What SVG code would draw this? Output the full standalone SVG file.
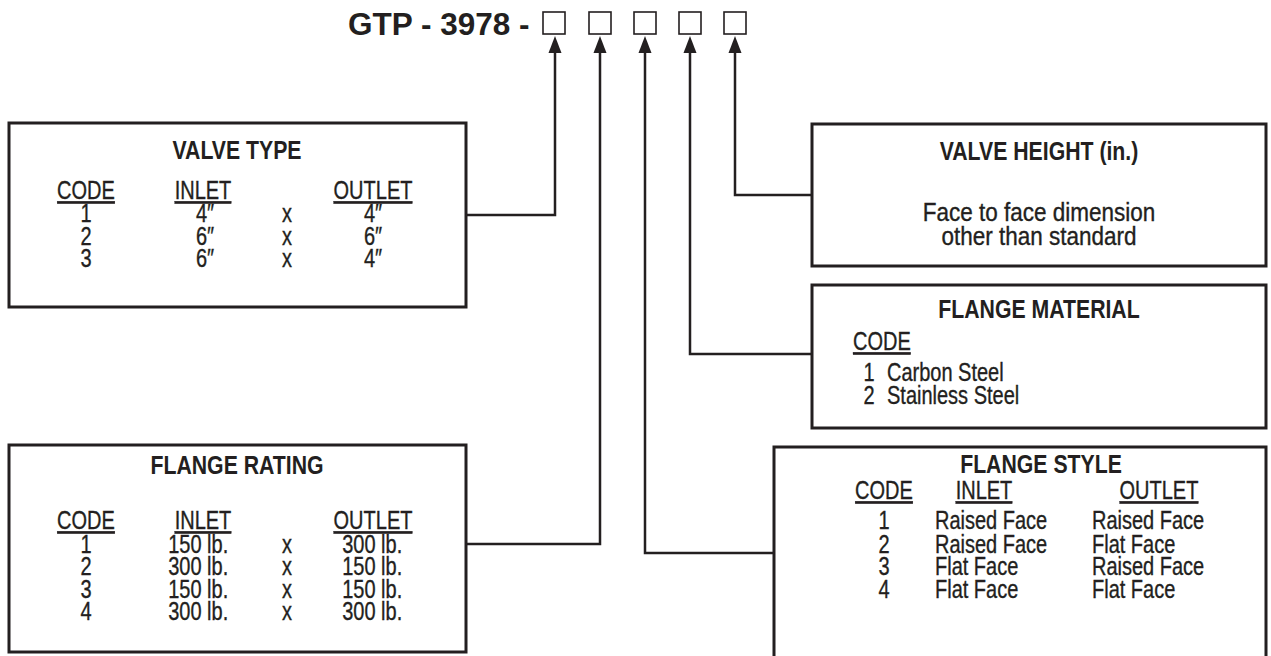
<svg xmlns="http://www.w3.org/2000/svg" width="1271" height="656" viewBox="0 0 1271 656">
<style>
.box{fill:#fff;stroke:#231f20;stroke-width:3}
.conn{fill:none;stroke:#231f20;stroke-width:2.5}
.sq{fill:#fff;stroke:#231f20;stroke-width:1.6}
.ah{fill:#231f20}
text{font-family:"Liberation Sans",Arial,sans-serif;fill:#231f20;font-size:25px;stroke:#231f20;stroke-width:.35}
.t{font-weight:bold;font-size:25px;text-anchor:middle;stroke:none}
.c{text-anchor:middle}
.s{text-anchor:start}
.u{text-decoration:underline}
.main{font-weight:bold;font-size:31.5px;stroke:none}
</style>
<rect width="1271" height="656" fill="#fff"/>
<g id="code">
<text class="main" x="348" y="35">GTP - 3978 -</text>
<rect class="sq" x="543" y="12" width="22" height="22"/>
<rect class="sq" x="589" y="12" width="22" height="22"/>
<rect class="sq" x="634" y="12" width="22" height="22"/>
<rect class="sq" x="679" y="12" width="22" height="22"/>
<rect class="sq" x="724" y="12" width="22" height="22"/>
</g>
<g id="connectors">
<path class="conn" d="M466,215 H555 V52"/>
<path class="conn" d="M466,544 H600 V52"/>
<path class="conn" d="M812,553 H645 V52"/>
<path class="conn" d="M812,354 H690 V52"/>
<path class="conn" d="M812,195 H735 V52"/>
<path class="ah" d="M548.5,53 L555,36 L561.5,53 Z"/>
<path class="ah" d="M593.5,53 L600,36 L606.5,53 Z"/>
<path class="ah" d="M638.5,53 L645,36 L651.5,53 Z"/>
<path class="ah" d="M683.5,53 L690,36 L696.5,53 Z"/>
<path class="ah" d="M728.5,53 L735,36 L741.5,53 Z"/>
</g>
<g id="valve-type">
<rect class="box" x="9" y="123" width="457" height="184"/>
<text class="t" transform="translate(237 159) scale(.85 1)">VALVE TYPE</text>
<text class="c" transform="translate(86 0) scale(.8 1)"><tspan class="u" x="0" y="199">CODE</tspan><tspan x="0" y="222">1</tspan><tspan x="0" y="245">2</tspan><tspan x="0" y="267">3</tspan></text>
<text class="c" transform="translate(203 0) scale(.8 1)"><tspan class="u" x="0" y="199">INLET</tspan><tspan x="2.5" y="222">4″</tspan><tspan x="2.5" y="245">6″</tspan><tspan x="2.5" y="267">6″</tspan></text>
<text class="c" transform="translate(287 0) scale(.8 1)"><tspan x="0" y="222">x</tspan><tspan x="0" y="245">x</tspan><tspan x="0" y="267">x</tspan></text>
<text class="c" transform="translate(373 0) scale(.8 1)"><tspan class="u" x="0" y="199">OUTLET</tspan><tspan x="0" y="222">4″</tspan><tspan x="0" y="245">6″</tspan><tspan x="0" y="267">4″</tspan></text>
</g>
<g id="flange-rating">
<rect class="box" x="9" y="445" width="457" height="207"/>
<text class="t" transform="translate(237 474) scale(.85 1)">FLANGE RATING</text>
<text class="c" transform="translate(86 0) scale(.8 1)"><tspan class="u" x="0" y="529">CODE</tspan><tspan x="0" y="553">1</tspan><tspan x="0" y="575">2</tspan><tspan x="0" y="598">3</tspan><tspan x="0" y="620">4</tspan></text>
<text class="c" transform="translate(203 0) scale(.8 1)"><tspan class="u" x="0" y="529">INLET</tspan><tspan x="-6" y="553">150 lb.</tspan><tspan x="-6" y="575">300 lb.</tspan><tspan x="-6" y="598">150 lb.</tspan><tspan x="-6" y="620">300 lb.</tspan></text>
<text class="c" transform="translate(287 0) scale(.8 1)"><tspan x="0" y="553">x</tspan><tspan x="0" y="575">x</tspan><tspan x="0" y="598">x</tspan><tspan x="0" y="620">x</tspan></text>
<text class="c" transform="translate(373 0) scale(.8 1)"><tspan class="u" x="0" y="529">OUTLET</tspan><tspan x="-1" y="553">300 lb.</tspan><tspan x="-1" y="575">150 lb.</tspan><tspan x="-1" y="598">150 lb.</tspan><tspan x="-1" y="620">300 lb.</tspan></text>
</g>
<g id="valve-height">
<rect class="box" x="812" y="124" width="454" height="142"/>
<text class="t" transform="translate(1039 160) scale(.85 1)">VALVE HEIGHT (in.)</text>
<text class="c" transform="translate(1039 0) scale(.9 1)"><tspan x="0" y="221">Face to face dimension</tspan><tspan x="0" y="245">other than standard</tspan></text>
</g>
<g id="flange-material">
<rect class="box" x="812" y="285" width="454" height="143"/>
<text class="t" transform="translate(1039 318) scale(.85 1)">FLANGE MATERIAL</text>
<text transform="translate(853 0) scale(.8 1)"><tspan class="u s" x="0" y="350">CODE</tspan><tspan class="c" x="20" y="381">1</tspan><tspan class="c" x="20" y="404">2</tspan></text>
<text transform="translate(887 0) scale(.8 1)"><tspan x="0" y="381">Carbon Steel</tspan><tspan x="0" y="404">Stainless Steel</tspan></text>
</g>
<g id="flange-style">
<rect class="box" x="774" y="447" width="492" height="215"/>
<text class="t" transform="translate(1041 473) scale(.85 1)">FLANGE STYLE</text>
<text class="c" transform="translate(884 0) scale(.8 1)"><tspan class="u" x="0" y="499">CODE</tspan><tspan x="0" y="529">1</tspan><tspan x="0" y="553">2</tspan><tspan x="0" y="575">3</tspan><tspan x="0" y="598">4</tspan></text>
<text transform="translate(935 0) scale(.8 1)"><tspan class="u c" x="61.25" y="499">INLET</tspan><tspan class="s" x="0" y="529">Raised Face</tspan><tspan class="s" x="0" y="553">Raised Face</tspan><tspan class="s" x="0" y="575">Flat Face</tspan><tspan class="s" x="0" y="598">Flat Face</tspan></text>
<text transform="translate(1092 0) scale(.8 1)"><tspan class="u c" x="83.75" y="499">OUTLET</tspan><tspan class="s" x="0" y="529">Raised Face</tspan><tspan class="s" x="0" y="553">Flat Face</tspan><tspan class="s" x="0" y="575">Raised Face</tspan><tspan class="s" x="0" y="598">Flat Face</tspan></text>
</g>
</svg>
